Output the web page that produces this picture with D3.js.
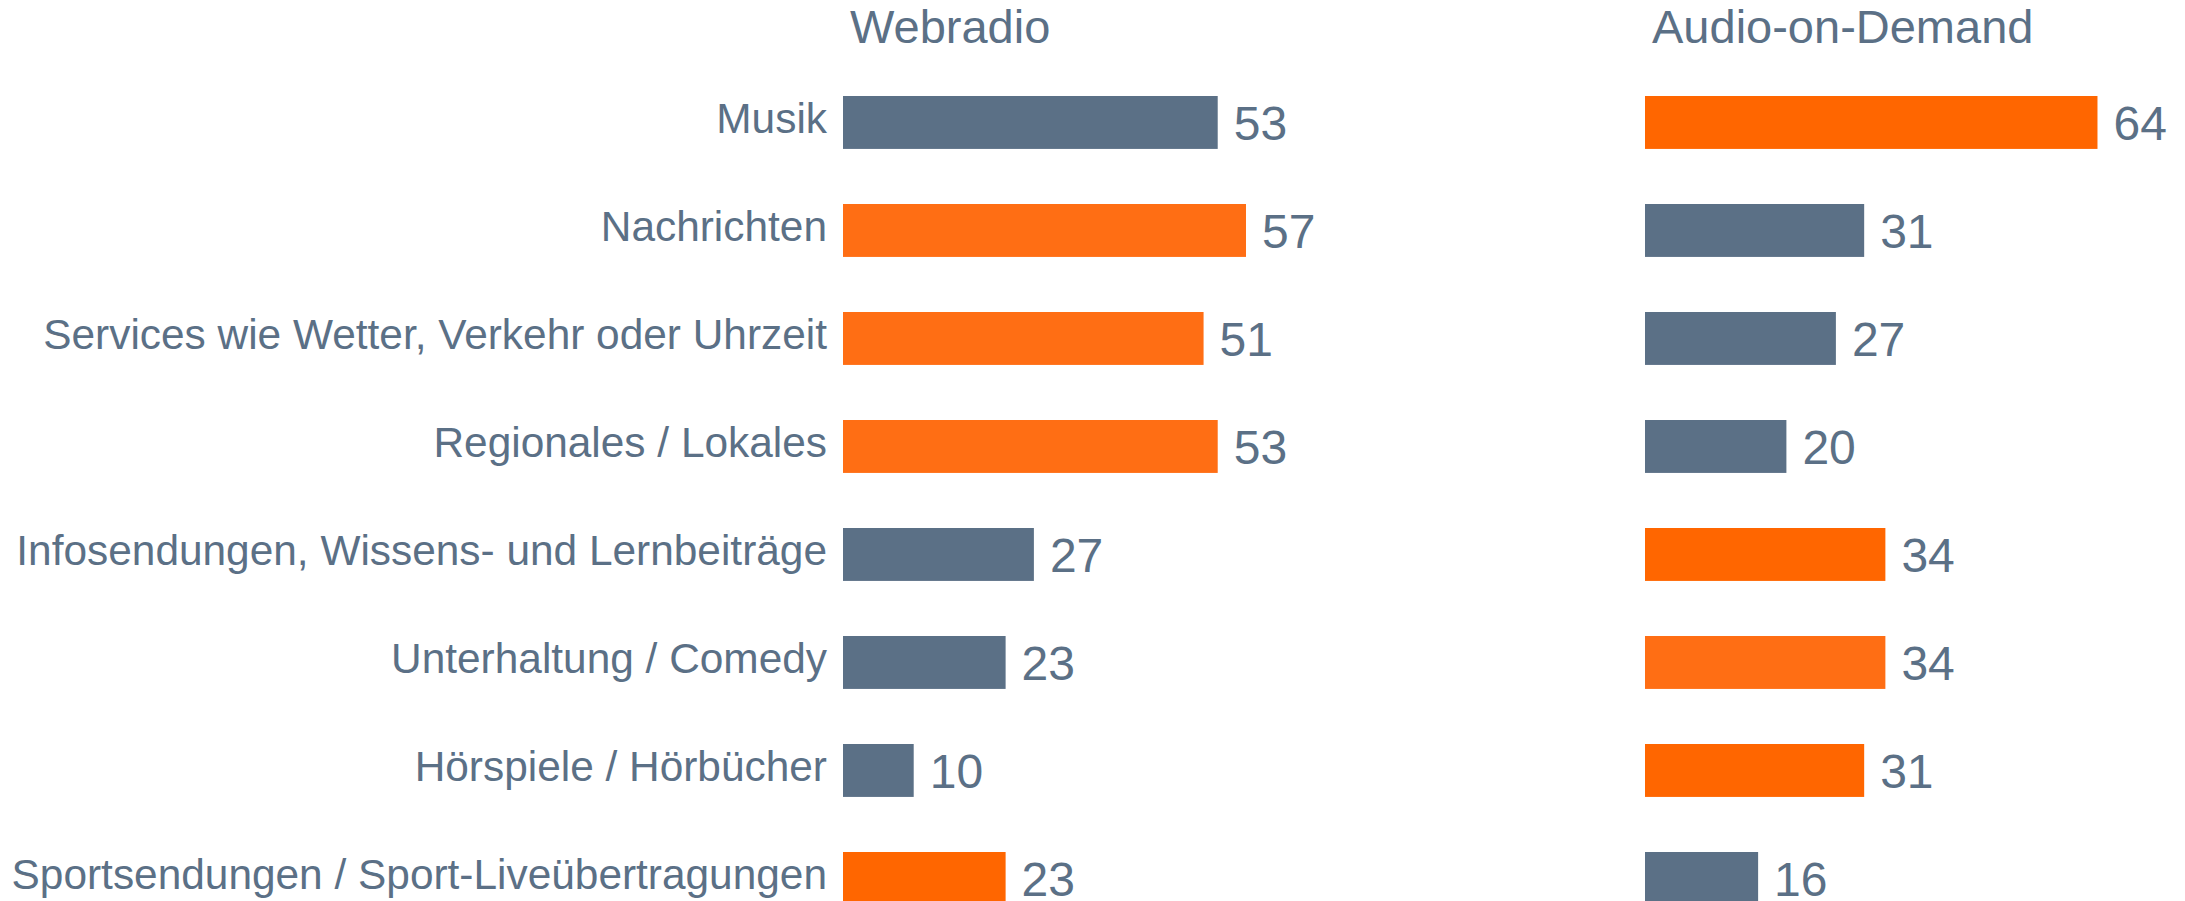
<!DOCTYPE html>
<html>
  <head>
    <meta charset="UTF-8" />
    <title>Webradio / Audio-on-Demand</title>
    <script src="https://d3js.org/d3.v7.min.js"></script>
    <style>
      * {
        margin: 0;
        padding: 0;
        box-sizing: border-box;
      }
      body {
        background-color: #ffffff;
      }
      svg {
        display: block;
      }
      text {
        font-family: "Liberation Sans", Arial, sans-serif;
        fill: #5b7086;
      }
      .label {
        font-size: 42.4px;
        text-anchor: end;
      }
      .value {
        font-size: 48px;
      }
      .title {
        font-size: 47px;
      }
    </style>
  </head>
  <body>
    <svg id="chart"></svg>
  </body>
  <script>
    const categories = [
      "Musik",
      "Nachrichten",
      "Services wie Wetter, Verkehr oder Uhrzeit",
      "Regionales / Lokales",
      "Infosendungen, Wissens- und Lernbeiträge",
      "Unterhaltung / Comedy",
      "Hörspiele / Hörbücher",
      "Sportsendungen / Sport-Liveübertragungen"
    ];
    const panelTitles = ["Webradio", "Audio-on-Demand"];
    const webradio = [53, 57, 51, 53, 27, 23, 10, 23];
    const audioOnDemand = [64, 31, 27, 20, 34, 34, 31, 16];
    // colour group per bar: g = grey, o = orange, l = lighter orange
    const webradioTone = ["g", "l", "l", "l", "g", "g", "g", "o"];
    const audioTone = ["o", "g", "g", "g", "o", "l", "o", "g"];

    const tones = { g: "#5b7086", o: "#ff6600", l: "#ff6e14" };

    const width = 2185;
    const height = 901;

    const svg = d3.select("#chart")
      .attr("width", width)
      .attr("height", height);

    const y = d3.scaleBand()
      .domain(categories)
      .range([96, 96 + 108 * (8 - 0.51)])
      .paddingInner(0.51)
      .paddingOuter(0);

    const x = d3.scaleLinear().domain([0, 100]).range([0, 707]);

    const panels = [
      { title: panelTitles[0], values: webradio, tone: webradioTone, left: 843 },
      { title: panelTitles[1], values: audioOnDemand, tone: audioTone, left: 1645 }
    ];

    // category labels (left of first panel)
    svg.append("g")
      .selectAll("text")
      .data(categories)
      .join("text")
      .attr("class", "label")
      .attr("x", panels[0].left - 16)
      .attr("y", (d) => y(d) + y.bandwidth() / 2 + 11)
      .text((d) => d);

    panels.forEach((p) => {
      const g = svg.append("g").attr("transform", `translate(${p.left},0)`);

      g.append("text")
        .attr("class", "title")
        .attr("x", 7)
        .attr("y", 43)
        .text(p.title);

      g.selectAll("rect")
        .data(p.values)
        .join("rect")
        .attr("x", 0)
        .attr("y", (d, i) => y(categories[i]))
        .attr("width", (d) => x(d))
        .attr("height", y.bandwidth())
        .attr("fill", (d, i) => tones[p.tone[i]]);

      g.selectAll("text.value")
        .data(p.values)
        .join("text")
        .attr("class", "value")
        .attr("x", (d) => x(d) + 16)
        .attr("y", (d, i) => y(categories[i]) + y.bandwidth() / 2 + 18)
        .text((d) => d);
    });
  </script>
</html>
